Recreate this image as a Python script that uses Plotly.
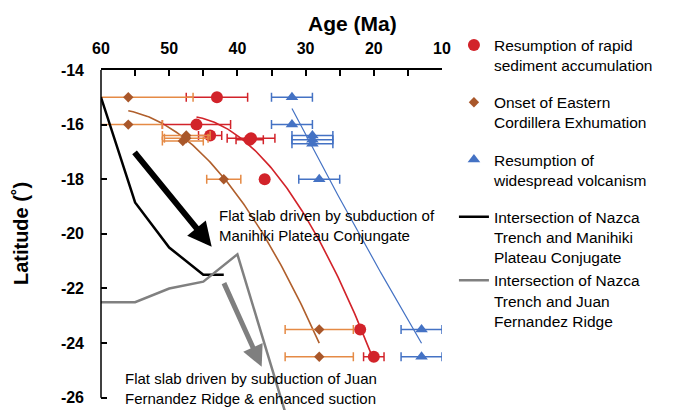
import numpy as np
import plotly.graph_objects as go

# ---------------- data ----------------
red_age = [43, 46, 44, 38, 38.2, 36, 22, 20]
red_lat = [-15, -16, -16.4, -16.5, -16.55, -18, -23.5, -24.5]
red_err = [4.5, 5, 1.7, 3.5, 2.0, 0, 0, 1.5]

orange_age = [56, 56, 47.5, 47.5, 48, 42, 28, 28]
orange_lat = [-15, -16, -16.4, -16.5, -16.6, -18, -23.5, -24.5]
orange_err = [9.5, 5, 3.5, 3.2, 3.0, 2.5, 5, 5]

blue_age = [32, 32, 29, 29, 29, 28, 13, 13]
blue_lat = [-15, -16, -16.4, -16.55, -16.7, -18, -23.5, -24.5]
blue_err = [3, 3, 3, 3, 3, 3, 3, 3]

manihiki_age = [60, 55, 50, 45, 42]
manihiki_lat = [-15, -18.85, -20.5, -21.5, -21.5]

jfr_age = [60, 55, 50, 45, 40, 35, 30]
jfr_lat = [-22.5, -22.5, -22.0, -21.75, -20.75, -25.0, -29.0]

x_ticks = [60, 50, 40, 30, 20, 10]
y_ticks = [-14, -16, -18, -20, -22, -24, -26]

RED = "#D2232A"
ORANGE_BAR = "#E58A45"
ORANGE_MK = "#A9572A"
ORANGE_LINE = "#B05F2C"
BLUE = "#4472C4"
GREY = "#808080"
FONT = "Liberation Sans, Arial, sans-serif"


def trend(age, lat, deg=2):
    c = np.polyfit(age, lat, deg)
    xs = np.linspace(min(age), max(age), 120)
    return xs, np.polyval(c, xs)


fig = go.Figure()

# trend lines
for age, lat, col, w in [(orange_age, orange_lat, ORANGE_LINE, 1.6),
                         (red_age, red_lat, RED, 1.6),
                         (blue_age, blue_lat, BLUE, 1.2)]:
    xs, ys = trend(age, lat)
    fig.add_trace(go.Scatter(x=xs, y=ys, mode="lines", line=dict(color=col, width=w),
                             showlegend=False, hoverinfo="skip"))

# marker series
fig.add_trace(go.Scatter(
    x=red_age, y=red_lat, mode="markers", name="Resumption of rapid<br>sediment accumulation",
    legendgroup="a", marker=dict(symbol="circle", size=12, color=RED),
    error_x=dict(type="data", array=red_err, color=RED, thickness=1.5, width=4.5)))
fig.add_trace(go.Scatter(
    x=orange_age, y=orange_lat, mode="markers", name="Onset of Eastern<br>Cordillera Exhumation",
    legendgroup="b", marker=dict(symbol="diamond", size=8, color=ORANGE_MK),
    error_x=dict(type="data", array=orange_err, color=ORANGE_BAR, thickness=1.5, width=4.5)))
fig.add_trace(go.Scatter(
    x=blue_age, y=blue_lat, mode="markers", name="Resumption of<br>widespread volcanism",
    legendgroup="c", marker=dict(symbol="triangle-up", size=11, color=BLUE),
    error_x=dict(type="data", array=blue_err, color=BLUE, thickness=1.5, width=4.5)))

# intersection lines
fig.add_trace(go.Scatter(
    x=manihiki_age, y=manihiki_lat, mode="lines",
    name="Intersection of Nazca<br>Trench and Manihiki<br>Plateau Conjugate",
    legendgroup="d", line=dict(color="black", width=2.5)))
fig.add_trace(go.Scatter(
    x=jfr_age, y=jfr_lat, mode="lines",
    name="Intersection of Nazca<br>Trench and Juan<br>Fernandez Ridge",
    legendgroup="d", line=dict(color=GREY, width=2.5)))

# y axis line drawn only to -26
fig.add_shape(type="line", xref="paper", yref="y", x0=0, x1=0, y0=-14, y1=-26,
              line=dict(color="black", width=1.5))

annotations = [
    dict(text="<b>Age (Ma)</b>", xref="paper", yref="paper", x=0.739, y=1.138,
         xanchor="center", yanchor="middle", showarrow=False,
         font=dict(family=FONT, size=21, color="black")),
    dict(text="<b>Latitude (˚)</b>", xref="paper", yref="paper", x=-0.235, y=0.52,
         xanchor="center", yanchor="middle", showarrow=False, textangle=-90,
         font=dict(family=FONT, size=20, color="black")),
    dict(text="Flat slab driven by subduction of<br>Manihiki Plateau Conjungate",
         x=43.05, y=-19.70, xanchor="left", yanchor="middle", align="left",
         showarrow=False, font=dict(family=FONT, size=15, color="black")),
    dict(text="Flat slab driven by subduction of Juan<br>Fernandez Ridge & enhanced suction",
         x=56.73, y=-25.66, xanchor="left", yanchor="middle", align="left",
         showarrow=False, font=dict(family=FONT, size=15, color="black")),
    dict(x=43.77, y=-20.47, ax=55.26, ay=-16.96, xref="x", yref="y", axref="x", ayref="y",
         text="", showarrow=True, arrowhead=2, arrowsize=0.8, arrowwidth=6,
         arrowcolor="black", standoff=0, startstandoff=0),
    dict(x=36.44, y=-24.87, ax=42.07, ay=-21.75, xref="x", yref="y", axref="x", ayref="y",
         text="", showarrow=True, arrowhead=2, arrowsize=0.85, arrowwidth=5,
         arrowcolor="#7F7F7F", standoff=0, startstandoff=0),
]

fig.update_layout(
    width=673, height=410,
    margin=dict(l=101, r=231, t=70, b=0, pad=0, autoexpand=False),
    paper_bgcolor="white", plot_bgcolor="white",
    font=dict(family=FONT, color="black"),
    annotations=annotations,
    legend=dict(x=1.035, y=0.668, xanchor="left", yanchor="middle",
                font=dict(family=FONT, size=15.5, color="black"),
                traceorder="grouped", tracegroupgap=14, valign="top",
                bgcolor="rgba(0,0,0,0)"),
    xaxis=dict(side="top", range=[60, 10], tickvals=x_ticks,
               ticktext=[str(v) for v in x_ticks], automargin=False,
               ticks="inside", ticklen=6, tickwidth=1.5, tickcolor="black",
               minor=dict(dtick=5, tick0=0, ticks="inside", ticklen=6, tickwidth=1.5,
                          tickcolor="black", showgrid=False),
               showline=True, linecolor="black", linewidth=1.5, mirror=False,
               showgrid=False, zeroline=False, ticklabelstandoff=8,
               tickfont=dict(family=FONT, size=16, color="black", weight="bold")),
    yaxis=dict(range=[-26.45, -14], tickvals=y_ticks,
               ticktext=[str(v) for v in y_ticks], automargin=False,
               ticks="inside", ticklen=6, tickwidth=1.5, tickcolor="black",
               showline=False, showgrid=False, zeroline=False, ticklabelstandoff=16,
               tickfont=dict(family=FONT, size=16, color="black", weight="bold")),
)

fig.write_html("out.html", config={"displayModeBar": False},
               post_script="document.body.style.margin='0px';")
